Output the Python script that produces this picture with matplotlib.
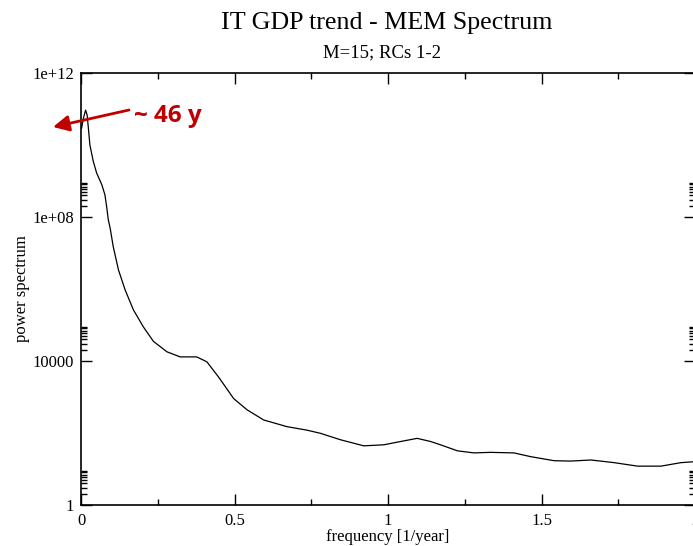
import matplotlib
matplotlib.use("Agg")
import matplotlib.pyplot as plt
from matplotlib.ticker import FixedLocator, FixedFormatter

# Data (frequency in 1/year, power spectrum)
freq = [0.002, 0.008, 0.015, 0.020, 0.024, 0.029, 0.040, 0.051, 0.068, 0.078,
        0.084, 0.089, 0.095, 0.105, 0.122, 0.144, 0.171, 0.203, 0.236, 0.280,
        0.323, 0.377, 0.410, 0.448, 0.497, 0.541, 0.595, 0.671, 0.736, 0.780,
        0.845, 0.921, 0.986, 1.041, 1.095, 1.139, 1.171, 1.226, 1.280, 1.334,
        1.410, 1.465, 1.541, 1.595, 1.661, 1.737, 1.813, 1.889, 1.954, 2.000]
power = [2.95e10, 5.6e10, 9.3e10, 6.8e10, 2.95e10, 1.0e10, 3.5e9, 1.66e9, 7.8e8, 4.1e8,
         1.8e8, 8.3e7, 4.9e7, 1.5e7, 3.4e6, 9.3e5, 2.6e5, 8.9e4, 3.5e4, 1.8e4,
         1.3e4, 1.3e4, 9.5e3, 3.6e3, 910, 440, 230, 150, 120, 98,
         65, 44, 47, 58, 71, 58, 47, 32, 28, 29,
         28, 22, 17, 16.6, 17.8, 15, 12, 12, 15, 16]

x_ticks = [0, 0.5, 1, 1.5, 2]
x_tick_labels = ["0", "0.5", "1", "1.5", "2"]
y_ticks = [1, 1e4, 1e8, 1e12]
y_tick_labels = ["1", "10000", "1e+08", "1e+12"]

title = "IT GDP trend - MEM Spectrum"
subtitle = "M=15; RCs 1-2"
annotation = "~ 46 y"

plt.rcParams['font.family'] = ['Liberation Serif', 'DejaVu Serif']

fig = plt.figure(figsize=(6.93, 5.46), dpi=100)
W, H = 693, 546
ax = fig.add_axes([81 / W, 1 - 505 / H, (695 - 81) / W, (505 - 73) / H])

ax.plot(freq, power, color='black', lw=0.9)
ax.set_yscale('log')
ax.set_xlim(0, 2)
ax.set_ylim(1, 1e12)

ax.xaxis.set_major_locator(FixedLocator(x_ticks))
ax.xaxis.set_major_formatter(FixedFormatter(x_tick_labels))
ax.xaxis.set_minor_locator(FixedLocator([0.25, 0.75, 1.25, 1.75]))
ax.yaxis.set_major_locator(FixedLocator(y_ticks))
ax.yaxis.set_major_formatter(FixedFormatter(y_tick_labels))
minor_y = [m * 10.0 ** e for e in (0, 4, 8) for m in range(2, 10)]
ax.yaxis.set_minor_locator(FixedLocator(minor_y))

ax.tick_params(which='both', direction='in', top=True, right=True,
               labelsize=12, width=1.0, colors='black')
ax.tick_params(which='major', length=8)
ax.tick_params(axis='x', which='major', pad=6)
ax.tick_params(axis='y', which='major', pad=5)
ax.tick_params(which='minor', length=4)
for s in ax.spines.values():
    s.set_linewidth(1.2)

ax.set_xlabel("frequency [1/year]", fontsize=12, labelpad=0)
ax.set_ylabel("power spectrum", fontsize=12, labelpad=2)

fig.text(387 / W, 1 - 23 / H, title, ha='center', va='center', fontsize=18.7)
fig.text(382 / W, 1 - 53 / H, subtitle, ha='center', va='center', fontsize=13.5)

red = '#C00000'
ax.annotate("", xy=(53, H - 127), xycoords='figure pixels',
            xytext=(129, H - 110), textcoords='figure pixels',
            arrowprops=dict(arrowstyle='-|>', color=red, lw=2.0,
                            mutation_scale=24, shrinkA=0, shrinkB=0),
            annotation_clip=False)
fig.text(134 / W, 1 - 116 / H, annotation, ha='left', va='center',
         fontsize=17.5, fontweight='bold', color=red,
         family=['Open Sans', 'DejaVu Sans'])

fig.savefig("out.png", dpi=100)
